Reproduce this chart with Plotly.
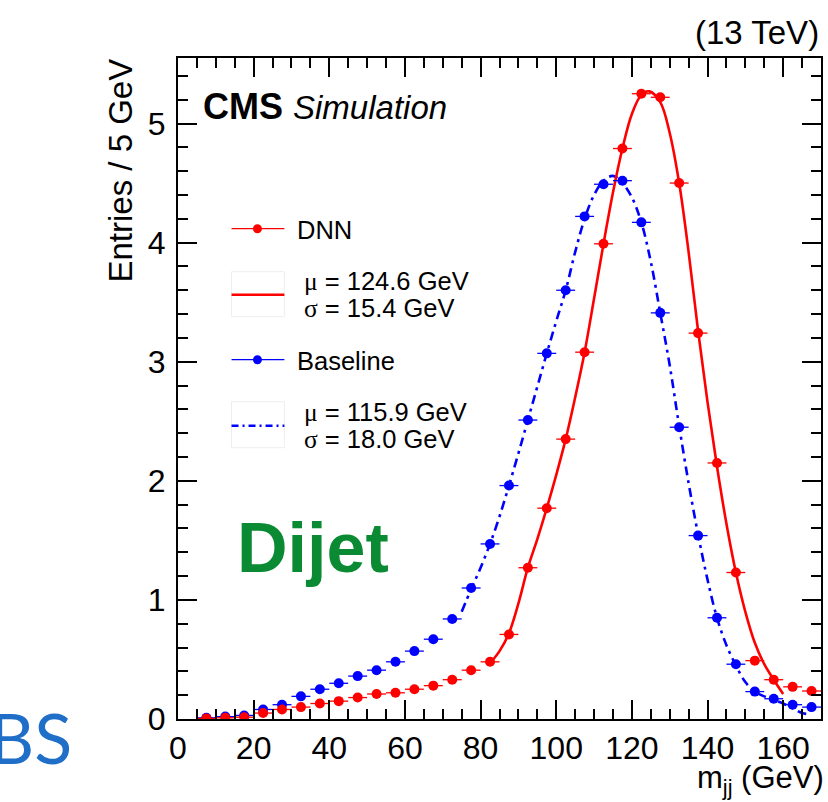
import plotly.graph_objects as go

# ---------------- data ----------------
bin_centers = [7.5 + 5 * i for i in range(33)]
bin_halfwidth = 2.5

dnn_vals = [0.005, 0.01, 0.015, 0.05, 0.08, 0.10, 0.13, 0.15, 0.18, 0.21, 0.22, 0.25, 0.28,
            0.33, 0.41, 0.48, 0.71, 1.27, 1.77, 2.35, 3.08, 3.99, 4.79, 5.25, 5.22, 4.50,
            3.24, 2.15, 1.23, 0.49, 0.33, 0.27, 0.235]
base_vals = [0.01, 0.02, 0.03, 0.08, 0.12, 0.19, 0.25, 0.30, 0.36, 0.41, 0.48, 0.57, 0.67,
             0.84, 1.10, 1.47, 1.96, 2.51, 3.07, 3.60, 4.22, 4.49, 4.52, 4.17, 3.41, 2.45,
             1.54, 0.85, 0.46, 0.23, 0.17, 0.12, 0.10]

dnn_fit_x = [82, 85, 87.5, 90, 92.5, 95, 97.5, 100, 102.5, 105, 107.5, 110, 112.5, 115, 117.5,
             120, 122.5, 124.6, 127.5, 130, 132.5, 135, 137.5, 140, 142.5, 145, 147.5, 150,
             152.5, 155, 157.5, 160]
dnn_fit_y = [0.45, 0.57, 0.72, 0.97, 1.27, 1.51, 1.77, 2.05, 2.35, 2.70, 3.08, 3.53, 3.99, 4.42,
             4.79, 5.08, 5.24, 5.27, 5.18, 4.92, 4.50, 3.92, 3.26, 2.66, 2.12, 1.64, 1.23, 0.90,
             0.64, 0.46, 0.33, 0.21]

base_fit_x = [75, 77.5, 80, 82.5, 85, 87.5, 90, 92.5, 95, 97.5, 100, 102.5, 105, 107.5, 110,
              112.5, 115, 117.5, 120, 122.5, 125, 127.5, 130, 132.5, 135, 137.5, 140, 142.5,
              145, 147.5, 150, 152.5, 155, 157.5, 160, 162.5, 165, 167]
base_fit_y = [0.90, 1.09, 1.27, 1.47, 1.70, 1.96, 2.23, 2.51, 2.79, 3.07, 3.34, 3.60, 3.92, 4.20,
              4.40, 4.52, 4.56, 4.50, 4.38, 4.17, 3.84, 3.41, 2.97, 2.46, 1.98, 1.55, 1.17, 0.85,
              0.62, 0.45, 0.31, 0.23, 0.19, 0.16, 0.13, 0.09, 0.05, 0.04]

x_ticks = [0, 20, 40, 60, 80, 100, 120, 140, 160]
y_ticks = [0, 1, 2, 3, 4, 5]

RED = "#ff0000"
BLUE = "#0000ff"
FONT = "Liberation Sans"

# ---------------- layout geometry ----------------
W, H = 828, 802
L, R, T, B = 178.3, 823.3, 58.3, 719.3


def px(xp):
    return (xp - L) / (R - L)


def py(yp):
    return (B - yp) / (B - T)


fig = go.Figure()

fig.add_trace(go.Scatter(x=base_fit_x, y=base_fit_y, mode="lines", line_shape="spline",
                         line=dict(color=BLUE, width=2.6, dash="9px,5px,3px,5px"),
                         showlegend=False, hoverinfo="skip"))
fig.add_trace(go.Scatter(x=dnn_fit_x, y=dnn_fit_y, mode="lines", line_shape="spline",
                         line=dict(color=RED, width=2.6), showlegend=False, hoverinfo="skip"))

fig.add_trace(go.Scatter(x=bin_centers, y=base_vals, mode="markers",
                         marker=dict(color=BLUE, size=10),
                         error_x=dict(type="constant", value=bin_halfwidth, color=BLUE,
                                      thickness=1.3, width=0),
                         showlegend=False))
fig.add_trace(go.Scatter(x=bin_centers, y=dnn_vals, mode="markers",
                         marker=dict(color=RED, size=10),
                         error_x=dict(type="constant", value=bin_halfwidth, color=RED,
                                      thickness=1.3, width=0),
                         showlegend=False))

axis_common = dict(showline=True, linecolor="black", linewidth=2, mirror="allticks",
                   ticks="inside", tickcolor="black", tickwidth=1.5, ticklen=19,
                   showgrid=False, zeroline=False,
                   tickfont=dict(family=FONT, size=32, color="black"))

fig.update_xaxes(range=[0, 170], tickvals=x_ticks, ticktext=[str(v) for v in x_ticks],
                 minor=dict(ticks="inside", dtick=5, ticklen=10, tickcolor="black",
                            tickwidth=1.5),
                 ticklabelstandoff=0, **axis_common)
fig.update_yaxes(range=[0, 5.55], tickvals=y_ticks, ticktext=[str(v) for v in y_ticks],
                 minor=dict(ticks="inside", dtick=0.2, ticklen=10, tickcolor="black",
                            tickwidth=1.5),
                 ticklabelstandoff=4, **axis_common)

shapes = []
annotations = []


def text(s, xp, yp, size, xanchor="left", yanchor="middle", color="black", angle=0,
         family=FONT, pad=1):
    annotations.append(dict(text=s, x=px(xp), y=py(yp), xref="paper", yref="paper",
                            xanchor=xanchor, yanchor=yanchor, showarrow=False,
                            textangle=angle, borderpad=pad,
                            font=dict(family=family, size=size, color=color)))


# texts
text("<b>CMS</b> <i><span style='font-size:33px'>Simulation</span></i>", 201, 107, 36)
text("(13 TeV)", 823, 33, 33, xanchor="right")
text("m<sub>jj</sub> (GeV)", 827, 801, 31, xanchor="right", yanchor="bottom", pad=0)
text("Entries / 5 GeV", 121, 57, 33, xanchor="center", yanchor="top", angle=-90)
text("<b>Dijet</b>", 235, 548, 70, color="#0a8a32")
text("BS", 74, 737, 70, xanchor="right", color="#1f6fc8", family="Lato")

# legend
LEG_X0, LEG_X1 = 232, 285
LEG_TX = 296
LEG_TX2 = 303
LFS = 25.5
# DNN
shapes.append(dict(type="line", xref="paper", yref="paper", x0=px(LEG_X0), x1=px(LEG_X1),
                   y0=py(229), y1=py(229), line=dict(color=RED, width=1.2)))
shapes.append(dict(type="circle", xref="paper", yref="paper", x0=px(253.5), x1=px(262.5),
                   y0=py(224.5), y1=py(233.5), fillcolor=RED, line=dict(color=RED, width=0)))
text("DNN", LEG_TX, 230, LFS)
shapes.append(dict(type="rect", xref="paper", yref="paper", x0=px(LEG_X0), x1=px(LEG_X1),
                   y0=py(272), y1=py(317), line=dict(color="#eeeeee", width=1)))
shapes.append(dict(type="line", xref="paper", yref="paper", x0=px(LEG_X0), x1=px(LEG_X1),
                   y0=py(295), y1=py(295), line=dict(color=RED, width=2.6)))
text("<span style='font-family:Liberation Serif'>\u03bc</span> = 124.6 GeV", LEG_TX2, 282, LFS)
text("<span style='font-family:Liberation Serif'>\u03c3</span> = 15.4 GeV", LEG_TX2, 309, LFS)
# Baseline
shapes.append(dict(type="line", xref="paper", yref="paper", x0=px(LEG_X0), x1=px(LEG_X1),
                   y0=py(360), y1=py(360), line=dict(color=BLUE, width=1.2)))
shapes.append(dict(type="circle", xref="paper", yref="paper", x0=px(253.5), x1=px(262.5),
                   y0=py(355.5), y1=py(364.5), fillcolor=BLUE, line=dict(color=BLUE, width=0)))
text("Baseline", LEG_TX, 361, LFS)
shapes.append(dict(type="rect", xref="paper", yref="paper", x0=px(LEG_X0), x1=px(LEG_X1),
                   y0=py(402), y1=py(448), line=dict(color="#eeeeee", width=1)))
shapes.append(dict(type="line", xref="paper", yref="paper", x0=px(LEG_X0), x1=px(LEG_X1),
                   y0=py(426), y1=py(426),
                   line=dict(color=BLUE, width=2.6, dash="7px,4px,2px,4px")))
text("<span style='font-family:Liberation Serif'>\u03bc</span> = 115.9 GeV", LEG_TX2, 413, LFS)
text("<span style='font-family:Liberation Serif'>\u03c3</span> = 18.0 GeV", LEG_TX2, 440, LFS)

fig.update_layout(width=W, height=H, plot_bgcolor="white", paper_bgcolor="white",
                  margin=dict(l=L, r=W - R, t=T, b=H - B, pad=0),
                  shapes=shapes, annotations=annotations, showlegend=False,
                  font=dict(family=FONT, color="black"))

fig.write_html("out.html")
